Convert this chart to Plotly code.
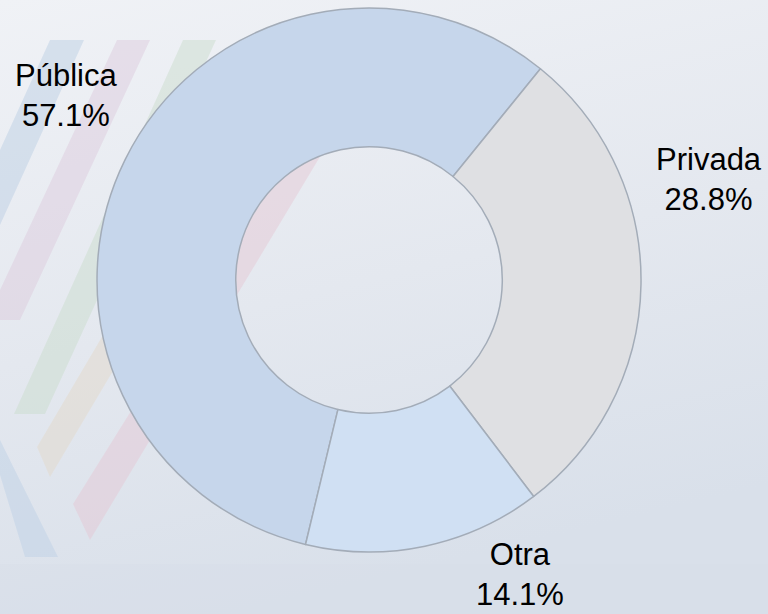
import base64
import plotly.graph_objects as go

# ---- data ----
labels = ["Pública", "Privada", "Otra"]
values = [57.1, 28.8, 14.1]
colors = ["#c6d6eb", "#dfe0e3", "#d0e0f3"]

# ---- background (gradient + faint diagonal stripes) as an SVG image ----
svg = """<svg xmlns='http://www.w3.org/2000/svg' width='768' height='614' viewBox='0 0 768 614' preserveAspectRatio='none'>
<defs>
<linearGradient id='g' x1='0' y1='0' x2='0.3' y2='1'>
<stop offset='0' stop-color='#f0f2f6'/>
<stop offset='0.55' stop-color='#e4e8ef'/>
<stop offset='1' stop-color='#d9e0ea'/>
</linearGradient>
</defs>
<rect x='0' y='0' width='768' height='614' fill='url(#g)'/>
<rect x='0' y='564' width='768' height='50' fill='#d6dde8' opacity='0.35'/>
<g opacity='0.45'>
<polygon points='50,40 84,40 0,225 0,150' fill='#b9cde3'/>
<polygon points='117,40 150,40 20,320 0,320 0,290' fill='#dcc9dc'/>
<polygon points='183,40 216,40 45,414 14,414' fill='#c9dccb'/>
<polygon points='230,120 262,120 50,477 37,447' fill='#e3d8c8'/>
<polygon points='300,140 330,140 90,540 73,504' fill='#e5c6d3'/>
<polygon points='0,440 0,475 25,557 58,557' fill='#bcd0e6'/>
</g>
</svg>"""
bg_src = "data:image/svg+xml;base64," + base64.b64encode(svg.encode("utf-8")).decode("ascii")

fig = go.Figure()

fig.add_trace(go.Pie(
    labels=labels,
    values=values,
    hole=0.49,
    sort=False,
    direction="clockwise",
    rotation=193.5,
    marker=dict(colors=colors, line=dict(color="#a3acb8", width=1.5)),
    textinfo="none",
    hoverinfo="label+percent",
    showlegend=False,
    domain=dict(x=[0.125, 0.836], y=[0.101, 0.987]),
))

# label annotations (text from the data lists): (x, y, yanchor)
label_pos = {
    "Pública": (0.086, 0.845, "middle"),
    "Privada": (0.923, 0.707, "middle"),
    "Otra": (0.677, 0.0, "bottom"),
}
for lab, val in zip(labels, values):
    x, y, ya = label_pos[lab]
    fig.add_annotation(
        x=x, y=y, xref="paper", yref="paper",
        text=f"{lab}<br>{val:.1f}%",
        showarrow=False, xanchor="center", yanchor=ya,
        font=dict(family="Liberation Sans, Arial, sans-serif", size=31, color="#000000"),
    )

fig.update_layout(
    width=768, height=614,
    margin=dict(l=0, r=0, t=0, b=0),
    paper_bgcolor="#e6eaf0",
    plot_bgcolor="rgba(0,0,0,0)",
    images=[dict(
        source=bg_src, xref="paper", yref="paper",
        x=0, y=1, sizex=1, sizey=1,
        xanchor="left", yanchor="top",
        sizing="stretch", layer="below",
    )],
)

fig.write_html("out.html", config={"displayModeBar": False},
               post_script="document.body.style.margin='0';")
